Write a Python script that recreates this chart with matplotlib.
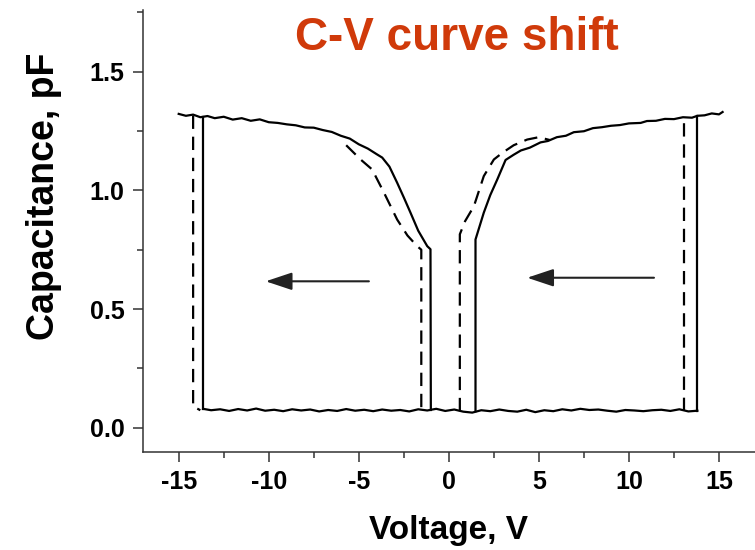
import matplotlib
matplotlib.use('Agg')
import matplotlib.pyplot as plt
from matplotlib.ticker import MultipleLocator, FormatStrFormatter

plt.rcParams['font.family'] = ['Liberation Sans', 'DejaVu Sans']
plt.rcParams['font.weight'] = 'bold'
plt.rcParams['axes.unicode_minus'] = False

# solid trace (first sweep)
solid_ul_v = [-15.0, -14.6, -14.2, -13.8, -13.4, -13.0, -12.5, -12.0, -11.5, -11.0, -10.5, -10.0,
              -9.5, -9.0, -8.5, -8.0, -7.5, -7.0, -6.5, -6.0, -5.5, -5.0, -4.5, -4.0, -3.7,
              -3.3, -2.87, -2.5, -2.13, -1.7, -1.2, -1.02, -1.0]
solid_ul_c = [1.322, 1.314, 1.319, 1.308, 1.313, 1.304, 1.310, 1.298, 1.304, 1.293, 1.299, 1.287,
              1.284, 1.278, 1.274, 1.265, 1.264, 1.254, 1.246, 1.230, 1.218, 1.194, 1.176, 1.152, 1.138,
              1.100, 1.032, 0.970, 0.906, 0.830, 0.765, 0.752, 0.075]

solid_ur_v = [1.48, 1.48, 1.94, 2.3, 2.69, 3.15, 3.6, 4.0, 4.5, 5.09, 5.5, 6.0, 6.5, 6.94, 7.5,
              8.0, 8.5, 9.0, 9.5, 10.0, 10.65, 11.0, 11.5, 12.0, 12.5, 13.0, 13.5, 13.8, 14.2,
              14.6, 15.0, 15.2]
solid_ur_c = [0.070, 0.793, 0.906, 0.980, 1.046, 1.128, 1.150, 1.168, 1.180, 1.202, 1.208, 1.224,
              1.230, 1.245, 1.249, 1.262, 1.266, 1.272, 1.275, 1.282, 1.284, 1.292, 1.293, 1.301,
              1.300, 1.308, 1.306, 1.314, 1.316, 1.324, 1.320, 1.330]

solid_left_v = [-13.65, -13.65]
solid_left_c = [1.310, 0.080]
solid_right_v = [13.8, 13.8]
solid_right_c = [0.072, 1.314]

bottom_v = [-13.65, -13.2, -12.7, -12.2, -11.7, -11.2, -10.7, -10.2, -9.7, -9.2, -8.7, -8.2, -7.7,
            -7.2, -6.7, -6.2, -5.7, -5.2, -4.7, -4.2, -3.7, -3.2, -2.7, -2.2, -1.7, -1.2, -0.7,
            -0.2, 0.3, 0.8, 1.3, 1.8, 2.3, 2.8, 3.3, 3.8, 4.3, 4.8, 5.3, 5.8, 6.3, 6.8, 7.3, 7.8,
            8.3, 8.8, 9.3, 9.8, 10.3, 10.8, 11.3, 11.8, 12.3, 12.8, 13.3, 13.8]
bottom_c = [0.080, 0.074, 0.078, 0.071, 0.079, 0.073, 0.081, 0.072, 0.076, 0.070, 0.078, 0.073, 0.077,
            0.069, 0.075, 0.071, 0.079, 0.072, 0.076, 0.070, 0.077, 0.072, 0.075, 0.069, 0.078, 0.073,
            0.080, 0.071, 0.077, 0.068, 0.064, 0.074, 0.070, 0.077, 0.071, 0.068, 0.076, 0.066, 0.074,
            0.070, 0.078, 0.073, 0.080, 0.075, 0.077, 0.072, 0.068, 0.075, 0.073, 0.070, 0.074, 0.076,
            0.071, 0.078, 0.069, 0.072]

# dashed trace (shifted sweep)
dash_ul_v = [-5.7, -5.46, -4.9, -4.26, -3.6, -2.87, -2.3, -1.76, -1.53, -1.53]
dash_ul_c = [1.190, 1.172, 1.130, 1.088, 0.990, 0.877, 0.810, 0.765, 0.750, 0.070]

dash_ur_v = [0.61, 0.61, 0.9, 1.39, 1.94, 2.5, 2.97, 3.6, 4.35, 5.0, 5.6]
dash_ur_c = [0.070, 0.815, 0.870, 0.933, 1.060, 1.130, 1.158, 1.190, 1.214, 1.224, 1.212]

dash_left_v = [-14.2, -14.2, -13.8]
dash_left_c = [1.315, 0.090, 0.074]
dash_right_v = [13.06, 13.06]
dash_right_c = [0.070, 1.310]

fig = plt.figure(figsize=(7.55, 5.5), dpi=100)
ax = fig.add_axes([0.189, 0.179, 0.811, 0.803])

lw = 1.6
for v, c in [(solid_ul_v, solid_ul_c), (solid_ur_v, solid_ur_c), (solid_left_v, solid_left_c),
             (solid_right_v, solid_right_c), (bottom_v, bottom_c)]:
    ax.plot(v, c, color='black', lw=lw, solid_joinstyle='round')

for v, c in [(dash_ul_v, dash_ul_c), (dash_ur_v, dash_ur_c), (dash_left_v, dash_left_c),
             (dash_right_v, dash_right_c)]:
    ax.plot(v, c, color='black', lw=lw, dashes=(6, 3.5))

# sweep direction arrows
arrow_kw = dict(arrowstyle='-|>,head_length=0.9,head_width=0.3', lw=1.5, color='#222222',
                mutation_scale=18, shrinkA=0, shrinkB=0)
ax.annotate('', xy=(-10.17, 0.617), xytext=(-4.44, 0.617), arrowprops=arrow_kw)
ax.annotate('', xy=(4.35, 0.632), xytext=(11.39, 0.632), arrowprops=arrow_kw)

ax.set_xlim(-17, 17)
ax.set_ylim(-0.1, 1.76)
ax.xaxis.set_major_locator(MultipleLocator(5))
ax.xaxis.set_minor_locator(MultipleLocator(2.5))
ax.yaxis.set_major_locator(MultipleLocator(0.5))
ax.yaxis.set_minor_locator(MultipleLocator(0.25))
ax.yaxis.set_major_formatter(FormatStrFormatter('%.1f'))
ax.spines['top'].set_visible(False)
ax.spines['right'].set_visible(False)
for s in ['left', 'bottom']:
    ax.spines[s].set_linewidth(1.1)
    ax.spines[s].set_color('#333333')
ax.tick_params(which='major', direction='out', length=7, width=1.1, color='#333333',
               labelsize=18, pad=6)
ax.tick_params(which='minor', direction='out', length=4, width=1.1, color='#333333')
for lab in ax.get_xticklabels() + ax.get_yticklabels():
    lab.set_fontweight('bold')

ax.set_xlabel('Voltage, V', fontsize=24, fontweight='bold')
ax.set_ylabel('Capacitance, pF', fontsize=27, fontweight='bold')
ax.xaxis.set_label_coords(0.5, -0.143)
ax.yaxis.set_label_coords(-0.132, 0.577)

fig.text(0.605, 0.931, 'C-V curve shift', color='#D03A0A', fontsize=33, fontweight='bold',
         ha='center', va='center')

fig.savefig('out.png', dpi=100)
